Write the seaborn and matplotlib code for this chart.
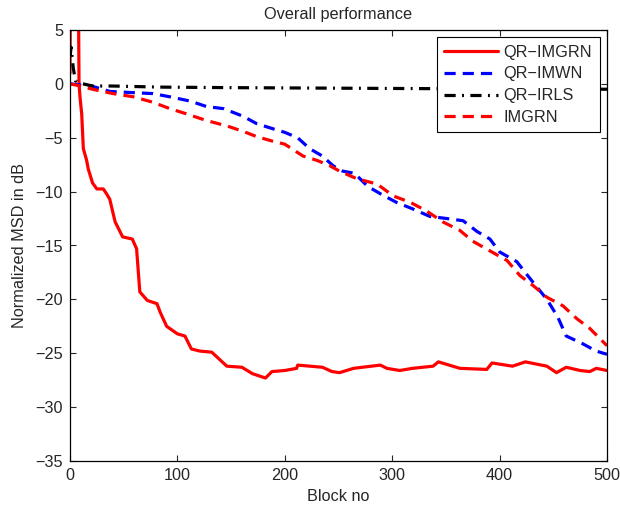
import matplotlib
matplotlib.use("Agg")
import matplotlib.pyplot as plt
import seaborn as sns

# ---- data ----
qr_imgrn_x = [0, 1.5, 6.5, 8.4, 9.3, 10.9, 12.4, 15.5, 17, 21, 25, 31, 34, 37, 42, 49, 58, 62, 65, 72, 81, 84,
              90, 100, 107, 113, 121, 132, 146, 160, 170, 182, 188, 200, 211, 212, 235, 244, 251, 264,
              289, 295, 307, 319, 338, 343, 363, 388, 393, 412, 424, 444, 453, 462, 475, 484, 490, 500]
qr_imgrn_y = [1, 30, 30, 0, -1.2, -2.8, -6.0, -7.1, -7.9, -9.2, -9.75, -9.75, -10.2, -10.7, -12.8, -14.2,
              -14.4, -15.3, -19.3, -20.1, -20.4, -21.2, -22.5, -23.2, -23.4, -24.6, -24.8, -24.9, -26.2,
              -26.3, -26.9, -27.3, -26.7, -26.6, -26.4, -26.1, -26.3, -26.7, -26.8, -26.4, -26.1, -26.4,
              -26.6, -26.4, -26.2, -25.8, -26.4, -26.5, -25.9, -26.2, -25.8, -26.2, -26.8, -26.3, -26.6,
              -26.7, -26.4, -26.6]

qr_imwn_x = [0, 10, 20, 37, 56, 77, 93, 112, 127, 143, 161, 174, 190, 200, 212, 223, 235, 245, 254, 265,
             277, 289, 304, 319, 335, 351, 366, 379, 391, 400, 416, 427, 444, 454, 462, 477, 490, 500]
qr_imwn_y = [0, -0.1, -0.2, -0.7, -0.8, -0.9, -1.2, -1.6, -2.1, -2.3, -3.0, -3.7, -4.2, -4.5, -5.0, -6.0,
             -6.7, -7.6, -8.1, -8.3, -9.5, -10.2, -11.0, -11.6, -12.3, -12.5, -12.7, -13.7, -14.4, -15.6,
             -16.5, -17.9, -20.0, -21.6, -23.4, -24.1, -24.8, -25.1]

qr_irls_x = [0, 1, 3, 5, 8, 21, 40, 84, 150, 250, 350, 450, 500]
qr_irls_y = [2.5, 3.4, 1.5, 0.3, 0.1, -0.2, -0.2, -0.3, -0.35, -0.4, -0.45, -0.45, -0.5]

imgrn_x = [0, 10, 21, 40, 59, 77, 93, 109, 127, 146, 161, 174, 188, 200, 217, 230, 242, 251, 267, 286,
           301, 317, 332, 347, 363, 375, 391, 407, 419, 431, 444, 459, 472, 484, 496, 500]
imgrn_y = [0, -0.2, -0.5, -0.9, -1.2, -1.7, -2.3, -2.8, -3.4, -3.9, -4.4, -4.9, -5.3, -5.6, -6.7, -7.1,
           -7.6, -8.1, -8.8, -9.3, -10.4, -11.0, -11.8, -12.8, -13.6, -14.6, -15.5, -16.4, -17.8, -18.7,
           -19.8, -20.6, -21.8, -22.7, -23.9, -24.3]

xticks = [0, 100, 200, 300, 400, 500]
yticks = [5, 0, -5, -10, -15, -20, -25, -30, -35]

sns.set_style("ticks")
plt.rcParams['font.family'] = ['Liberation Sans', 'DejaVu Sans']
plt.rcParams['xtick.direction'] = 'in'
plt.rcParams['ytick.direction'] = 'in'

FS = 11.7
fig = plt.figure(figsize=(6.2, 5.11), dpi=100)
ax = fig.add_axes([70 / 620, 50 / 511, 537 / 620, 431 / 511])

lw = 2.3
sns.lineplot(x=qr_imgrn_x, y=qr_imgrn_y, ax=ax, color='#ff0000', linewidth=lw, linestyle='-',
             label='QR\u2212IMGRN', sort=False)
sns.lineplot(x=qr_imwn_x, y=qr_imwn_y, ax=ax, color='#0000ff', linewidth=lw, linestyle=(0, (3.5, 2.2)),
             label='QR\u2212IMWN', sort=False)
sns.lineplot(x=qr_irls_x, y=qr_irls_y, ax=ax, color='black', linewidth=lw, linestyle=(0, (3.5, 2, 0.6, 2)),
             label='QR\u2212IRLS', sort=False)
sns.lineplot(x=imgrn_x, y=imgrn_y, ax=ax, color='#ff0000', linewidth=lw, linestyle=(0, (3.5, 2.2)),
             label='IMGRN', sort=False)

ax.set_xlim(0, 500)
ax.set_ylim(-35, 5)
ax.set_xticks(xticks)
ax.set_yticks(yticks)
ax.tick_params(axis='both', which='both', top=True, right=True, labelsize=FS, length=4, width=0.8, pad=5)
for s in ax.spines.values():
    s.set_linewidth(0.9)
    s.set_color('black')

ax.set_title('Overall performance', fontsize=FS, pad=8)
ax.set_xlabel('Block no', fontsize=FS, labelpad=4)
ax.set_ylabel('Normalized MSD in dB', fontsize=FS, labelpad=6)

leg = ax.legend(loc='upper right', fontsize=FS, frameon=True, fancybox=False, framealpha=1,
                edgecolor='black', handlelength=3.3, borderaxespad=0.45, labelspacing=0.42,
                handletextpad=0.35, borderpad=0.45)
leg.get_frame().set_linewidth(0.8)

fig.savefig('out.png', dpi=100)
